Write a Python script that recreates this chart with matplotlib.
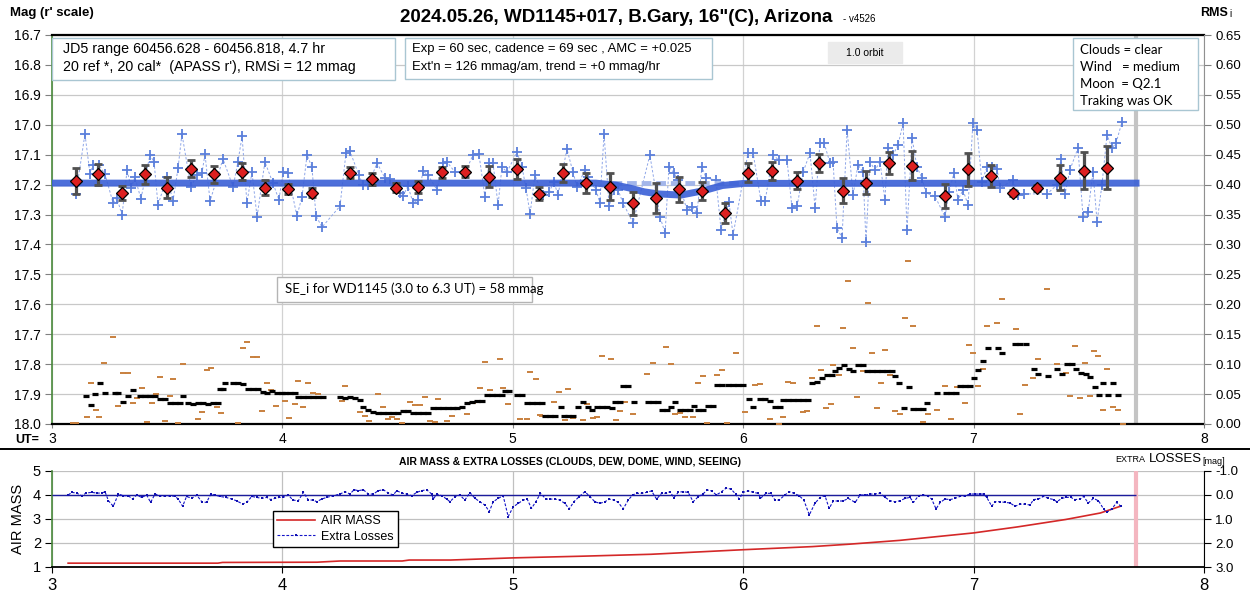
import matplotlib
matplotlib.use('Agg')
import matplotlib.pyplot as plt
from matplotlib.patches import Rectangle
from matplotlib.lines import Line2D
import numpy as np

plt.rcParams['font.family'] = ['Liberation Sans', 'DejaVu Sans']

# ---------------- data ----------------
# binned points (UT hours, r' mag, error)
bin_t = [3.104, 3.200, 3.304, 3.404, 3.499, 3.603, 3.703, 3.825, 3.924, 4.024, 4.128,
         4.293, 4.389, 4.493, 4.589, 4.693, 4.793, 4.897, 5.018, 5.114, 5.218, 5.318,
         5.422, 5.522, 5.622, 5.721, 5.821, 5.921, 6.021, 6.125, 6.234, 6.329, 6.433,
         6.533, 6.633, 6.733, 6.876, 6.976, 7.076, 7.171, 7.275, 7.375, 7.479, 7.579]
bin_m = [17.188, 17.165, 17.229, 17.166, 17.210, 17.147, 17.165, 17.157, 17.210, 17.216, 17.227,
         17.160, 17.182, 17.210, 17.207, 17.159, 17.157, 17.174, 17.149, 17.231, 17.160, 17.194,
         17.207, 17.263, 17.244, 17.215, 17.221, 17.294, 17.160, 17.155, 17.187, 17.129, 17.220,
         17.194, 17.127, 17.137, 17.238, 17.149, 17.170, 17.227, 17.210, 17.177, 17.153, 17.143]
bin_e = [0.042, 0.035, 0.024, 0.033, 0.035, 0.029, 0.028, 0.029, 0.025, 0.017, 0.015,
         0.018, 0.020, 0.016, 0.020, 0.019, 0.018, 0.035, 0.033, 0.022, 0.030, 0.033,
         0.045, 0.037, 0.050, 0.042, 0.030, 0.033, 0.032, 0.030, 0.028, 0.030, 0.042,
         0.039, 0.037, 0.049, 0.039, 0.056, 0.037, 0.010, 0.010, 0.042, 0.063, 0.072]

# individual measurements
cross_t = [3.104, 3.143, 3.165, 3.178, 3.204, 3.230, 3.265, 3.282, 3.304, 3.326, 3.343, 3.360, 3.386,
           3.425, 3.443, 3.460, 3.499, 3.525, 3.547, 3.564, 3.603, 3.629, 3.651, 3.664, 3.686, 3.742,
           3.786, 3.807, 3.825, 3.846, 3.868, 3.890, 3.924, 3.959, 3.985, 4.003, 4.024, 4.063, 4.085,
           4.107, 4.128, 4.146, 4.172, 4.250, 4.276, 4.293, 4.332, 4.350, 4.372, 4.411, 4.445, 4.467,
           4.510, 4.523, 4.545, 4.567, 4.589, 4.610, 4.632, 4.671, 4.697, 4.714,
           4.749, 4.793, 4.827, 4.853, 4.879, 4.897, 4.914, 4.936, 4.953, 4.975, 5.018, 5.040, 5.057,
           5.075, 5.096, 5.131, 5.157, 5.179, 5.196, 5.235, 5.261, 5.279, 5.313, 5.326, 5.361, 5.378,
           5.396, 5.418, 5.439, 5.457, 5.478, 5.522, 5.595, 5.639, 5.661, 5.678, 5.700, 5.717, 5.756,
           5.778, 5.799, 5.821, 5.839, 5.882, 5.904, 5.938, 5.956, 6.021, 6.043, 6.077, 6.095, 6.129,
           6.155, 6.190, 6.212, 6.234, 6.260, 6.290, 6.312, 6.333, 6.351, 6.377, 6.390, 6.407, 6.429,
           6.451,
           6.477, 6.498, 6.520, 6.533, 6.550, 6.572, 6.594, 6.615, 6.628, 6.650, 6.672, 6.694, 6.711,
           6.733, 6.754, 6.776, 6.793, 6.832, 6.876, 6.893, 6.915, 6.932, 6.954, 6.976, 6.997, 7.015,
           7.036, 7.058, 7.080, 7.102, 7.115, 7.171, 7.193, 7.219, 7.319, 7.362, 7.379, 7.397, 7.418,
           7.453, 7.475, 7.497, 7.518, 7.536, 7.557, 7.579, 7.601, 7.618, 7.644]
cross_m = [17.231, 17.031, 17.165, 17.134, 17.134, 17.165, 17.261, 17.245, 17.302, 17.151, 17.211, 17.175, 17.248,
           17.101, 17.124, 17.268, 17.175, 17.255, 17.145, 17.031, 17.208, 17.168, 17.161, 17.098, 17.255, 17.114,
           17.208, 17.124, 17.038, 17.261, 17.158, 17.308, 17.124, 17.195, 17.251, 17.158, 17.161, 17.305, 17.241,
           17.101, 17.141, 17.305, 17.342, 17.272, 17.094, 17.088, 17.168, 17.201, 17.201, 17.128, 17.178, 17.181,
           17.228, 17.238, 17.205, 17.261, 17.251, 17.155, 17.168, 17.218, 17.128, 17.124,
           17.158, 17.161, 17.101, 17.098, 17.241, 17.128, 17.128, 17.268, 17.141, 17.158, 17.091, 17.141, 17.211,
           17.298, 17.168, 17.235, 17.225, 17.191, 17.235, 17.081, 17.158, 17.208, 17.151, 17.175, 17.218, 17.261,
           17.031, 17.272, 17.218, 17.218, 17.261, 17.328, 17.101, 17.308, 17.362, 17.141, 17.161, 17.185, 17.285,
           17.275, 17.295, 17.141, 17.178, 17.185, 17.352, 17.258, 17.368, 17.094, 17.094, 17.255, 17.255, 17.101,
           17.118, 17.118, 17.278, 17.272, 17.158, 17.094, 17.278, 17.061, 17.061, 17.128, 17.124, 17.345, 17.378,
           17.018,
           17.235, 17.134, 17.158, 17.392, 17.124, 17.151, 17.124, 17.251, 17.078, 17.101, 17.068, 16.994, 17.352,
           17.044, 17.141, 17.178, 17.228, 17.238, 17.308, 17.225, 17.161, 17.251, 17.218, 17.268, 16.994, 17.018,
           17.191, 17.141, 17.141, 17.148, 17.211, 17.185, 17.235, 17.231, 17.231, 17.201, 17.114, 17.231, 17.151,
           17.078, 17.308, 17.292, 17.158, 17.325, 17.201, 17.034, 17.078, 17.061, 16.991]

# model fit (thick line) and un-dipped level (dashed)
model_t = [3.00, 5.36, 5.45, 5.51, 5.57, 5.63, 5.73, 5.83, 5.91, 6.00, 7.72]
model_m = [17.195, 17.195, 17.202, 17.212, 17.224, 17.231, 17.235, 17.220, 17.203, 17.196, 17.195]
level_t = [5.43, 5.99]
level_m = [17.195, 17.195]

# RMS-type dashes (right axis)
brown_t = [3.091, 3.104, 3.152, 3.169, 3.191, 3.204, 3.226, 3.265, 3.286, 3.308, 3.330, 3.352, 3.369,
           3.391, 3.412, 3.434, 3.451, 3.469, 3.490, 3.512, 3.525, 3.547, 3.569, 3.634, 3.651, 3.673,
           3.690, 3.716, 3.734, 3.807, 3.829, 3.846, 3.872, 3.890, 3.911, 3.933, 3.951, 3.972, 4.011,
           4.029, 4.055, 4.068, 4.089, 4.111, 4.133, 4.155, 4.259, 4.272, 4.337, 4.359, 4.376, 4.415,
           4.437, 4.458, 4.476, 4.497, 4.519, 4.554, 4.576, 4.597, 4.619, 4.641, 4.662, 4.675, 4.714,
           4.736, 4.801, 4.827, 4.849, 4.858, 4.879, 4.901, 4.944, 4.957, 4.979, 5.031, 5.062, 5.075,
           5.101, 5.118, 5.127, 5.179, 5.200, 5.227, 5.240, 5.261, 5.304, 5.322, 5.348, 5.365, 5.387,
           5.426, 5.448, 5.465, 5.487, 5.522, 5.582, 5.608, 5.665, 5.687, 5.704, 5.726, 5.747, 5.782,
           5.804,
           5.826, 5.843, 5.886, 5.908, 5.930, 5.969, 6.008, 6.051, 6.073, 6.116,
           6.155, 6.173, 6.194, 6.216, 6.260, 6.277, 6.299, 6.320, 6.338, 6.359, 6.381, 6.390, 6.416,
           6.433, 6.455, 6.477, 6.494, 6.520, 6.542, 6.559, 6.581, 6.598, 6.615, 6.637, 6.659, 6.681,
           6.702, 6.715, 6.737, 6.759, 6.780, 6.802, 6.841, 6.876, 6.902, 6.928, 6.963, 6.980, 6.997,
           7.019, 7.041, 7.058, 7.102, 7.123, 7.184, 7.201, 7.223, 7.258, 7.280, 7.319, 7.362, 7.401,
           7.418, 7.440, 7.462, 7.484, 7.505, 7.523, 7.540, 7.562, 7.579, 7.605, 7.627, 7.648]
brown_v = [0.002, 0.002, 0.012, 0.069, 0.023, 0.012, 0.102, 0.145, 0.030, 0.085, 0.085, 0.035, 0.043,
           0.060, 0.003, 0.035, 0.050, 0.079, 0.005, 0.047, 0.075, 0.002, 0.100, 0.008, 0.020, 0.090,
           0.094, 0.028, 0.018, 0.002, 0.127, 0.137, 0.112, 0.112, 0.022, 0.069, 0.057, 0.030, 0.038,
           0.010, 0.033, 0.072, 0.028, 0.069, 0.052, 0.050, 0.038, 0.063, 0.020, 0.013, 0.005, 0.050,
           0.028, 0.008, 0.012, 0.008, 0.002, 0.037, 0.032, 0.032, 0.045, 0.005, 0.003, 0.042, 0.005,
           0.013, 0.017, 0.035, 0.037, 0.060, 0.104, 0.057, 0.109, 0.060, 0.033, 0.008, 0.008, 0.087,
           0.075, 0.015, 0.013, 0.037, 0.054, 0.006, 0.058, 0.010, 0.007, 0.033, 0.010, 0.011, 0.114,
           0.109, 0.007, 0.022, 0.036, 0.017, 0.083, 0.102, 0.129, 0.100, 0.016, 0.018, 0.012, 0.011,
           0.069,
           0.080, 0.002, 0.082, 0.090, 0.002, 0.119, 0.020, 0.065, 0.067, 0.008,
           0.000, 0.012, 0.070, 0.069, 0.020, 0.022, 0.077, 0.164, 0.090, 0.027, 0.033, 0.099, 0.082,
           0.160, 0.239, 0.127, 0.045, 0.089, 0.202, 0.119, 0.027, 0.069, 0.124, 0.082, 0.022, 0.017,
           0.177, 0.272, 0.164, 0.023, 0.003, 0.017, 0.023, 0.063, 0.008, 0.062, 0.035, 0.132, 0.119,
           0.063, 0.092, 0.164, 0.169, 0.209, 0.159, 0.017, 0.065, 0.077, 0.109, 0.226, 0.100, 0.085,
           0.047, 0.130, 0.043, 0.102, 0.047, 0.122, 0.114, 0.023, 0.092, 0.028, 0.023, 0.000]

black_t = [3.148, 3.169, 3.187, 3.208, 3.230, 3.273, 3.286, 3.308, 3.330, 3.352, 3.382, 3.404, 3.425,
           3.447, 3.469, 3.490, 3.512, 3.534, 3.556, 3.569, 3.590, 3.612, 3.634, 3.655, 3.677, 3.699,
           3.720, 3.729, 3.742, 3.751, 3.786, 3.807, 3.829, 3.851, 3.872, 3.894, 3.916, 3.933, 3.955,
           3.977, 3.998, 4.011, 4.033, 4.055, 4.068, 4.089, 4.111, 4.133, 4.155, 4.176, 4.250, 4.272,
           4.293, 4.315, 4.337, 4.350, 4.372, 4.393, 4.415, 4.437, 4.458, 4.480, 4.502, 4.523, 4.545,
           4.567, 4.589, 4.610, 4.632, 4.654, 4.675, 4.697, 4.719, 4.740, 4.758, 4.780, 4.801, 4.823,
           4.845, 4.866, 4.888, 4.910, 4.931, 4.953, 4.966, 4.985, 5.018, 5.040, 5.062, 5.083, 5.105,
           5.127, 5.140, 5.161, 5.183, 5.209, 5.222, 5.240, 5.261, 5.283, 5.304, 5.326, 5.344,
           5.365, 5.387, 5.409, 5.431, 5.444, 5.465, 5.478, 5.500, 5.526, 5.587, 5.608, 5.630,
           5.648, 5.670, 5.687, 5.704, 5.726, 5.747, 5.769, 5.786, 5.804, 5.826, 5.847, 5.869,
           5.888, 5.910, 5.932, 5.954, 5.976, 5.998, 6.025, 6.043, 6.073,
           6.095, 6.116, 6.138, 6.160, 6.173, 6.194, 6.216, 6.238, 6.260, 6.281, 6.299, 6.320, 6.342,
           6.364, 6.385, 6.398, 6.416, 6.438, 6.459, 6.477, 6.498, 6.520, 6.537, 6.559, 6.581, 6.602,
           6.624, 6.646, 6.659, 6.676, 6.698, 6.720, 6.737, 6.759, 6.780, 6.798, 6.841, 6.880, 6.902,
           6.924, 6.941, 6.963, 6.985, 7.002, 7.019, 7.041, 7.062, 7.106, 7.123, 7.180, 7.201, 7.227,
           7.262, 7.280, 7.323, 7.362, 7.384, 7.405, 7.427, 7.444, 7.466, 7.488, 7.505, 7.527, 7.544,
           7.562, 7.583, 7.605, 7.627]
black_v = [0.047, 0.032, 0.050, 0.069, 0.052, 0.052, 0.052, 0.037, 0.047, 0.057, 0.047, 0.047, 0.047,
           0.047, 0.042, 0.042, 0.035, 0.035, 0.035, 0.047, 0.035, 0.033, 0.035, 0.035, 0.033, 0.035,
           0.035, 0.058, 0.058, 0.069, 0.069, 0.069, 0.067, 0.058, 0.058, 0.058, 0.053, 0.052, 0.055,
           0.052, 0.052, 0.052, 0.052, 0.052, 0.045, 0.045, 0.045, 0.045, 0.045, 0.045, 0.045, 0.043,
           0.045, 0.043, 0.040, 0.028, 0.023, 0.020, 0.018, 0.018, 0.018, 0.018, 0.018, 0.022, 0.022,
           0.018, 0.018, 0.018, 0.018, 0.027, 0.027, 0.027, 0.027, 0.027, 0.027, 0.028, 0.035, 0.037,
           0.038, 0.038, 0.048, 0.048, 0.048, 0.048, 0.055, 0.055, 0.048, 0.048, 0.035, 0.035, 0.035,
           0.035, 0.013, 0.013, 0.013, 0.029, 0.013, 0.013, 0.013, 0.029, 0.036, 0.029, 0.023,
           0.029, 0.029, 0.029, 0.027, 0.036, 0.036, 0.063, 0.063, 0.036, 0.036, 0.036, 0.036,
           0.023, 0.023, 0.029, 0.036, 0.023, 0.023, 0.023, 0.030, 0.023, 0.023, 0.030, 0.030,
           0.065, 0.065, 0.065, 0.065, 0.065, 0.065, 0.042, 0.028, 0.042,
           0.042, 0.038, 0.028, 0.028, 0.040, 0.040, 0.040, 0.040, 0.040, 0.040, 0.069, 0.070, 0.077,
           0.082, 0.082, 0.089, 0.094, 0.099, 0.092, 0.089, 0.099, 0.099, 0.089, 0.089, 0.089, 0.089,
           0.089, 0.089, 0.080, 0.069, 0.027, 0.062, 0.025, 0.025, 0.025, 0.035, 0.052, 0.052, 0.052,
           0.052, 0.063, 0.063, 0.063, 0.077, 0.090, 0.105, 0.127, 0.127, 0.119, 0.134, 0.134, 0.134,
           0.092, 0.084, 0.080, 0.092, 0.084, 0.100, 0.100, 0.092, 0.085, 0.084, 0.079, 0.062, 0.048,
           0.069, 0.048, 0.069, 0.048]

# air mass and extra losses (bottom panel)
am_t = [3.07, 3.72, 3.74, 4.15, 4.25, 4.52, 4.55, 4.73, 5.00, 5.30, 5.60, 6.00, 6.30, 6.46,
        6.68, 7.00, 7.19, 7.40, 7.55, 7.64]
am_v = [1.16, 1.16, 1.19, 1.20, 1.25, 1.25, 1.29, 1.29, 1.38, 1.45, 1.53, 1.72, 1.85, 1.95,
        2.11, 2.42, 2.67, 2.98, 3.25, 3.54]

loss_t = [3.071, 3.085, 3.107, 3.129, 3.148, 3.172, 3.194, 3.216, 3.230, 3.245, 3.266, 3.288, 3.310,
          3.331, 3.350, 3.367, 3.389, 3.411, 3.428, 3.447, 3.469, 3.490, 3.512, 3.534, 3.548, 3.567,
          3.584, 3.606, 3.628, 3.650, 3.671, 3.689, 3.707, 3.729, 3.755, 3.780, 3.801, 3.828, 3.848,
          3.867, 3.888, 3.910, 3.932, 3.949, 3.968, 3.987, 4.004, 4.026, 4.045, 4.069, 4.091, 4.113,
          4.134, 4.149, 4.170, 4.192, 4.221, 4.250, 4.272, 4.293, 4.311, 4.330, 4.351, 4.373, 4.395,
          4.416, 4.438, 4.460, 4.481, 4.496, 4.518, 4.539, 4.561, 4.583, 4.604, 4.626, 4.648, 4.655,
          4.670, 4.692, 4.713,
          4.727, 4.749, 4.770, 4.792, 4.814, 4.836, 4.857, 4.879, 4.898, 4.915, 4.937, 4.958, 4.980,
          5.002, 5.024, 5.045, 5.063, 5.081, 5.100, 5.120, 5.144, 5.161, 5.183, 5.204, 5.226, 5.245,
          5.265, 5.288, 5.313, 5.335, 5.356, 5.378, 5.400, 5.419, 5.439, 5.458, 5.479, 5.501, 5.520,
          5.537, 5.559, 5.581, 5.602, 5.624, 5.646, 5.667, 5.682, 5.699, 5.718, 5.737, 5.761, 5.783,
          5.805, 5.824, 5.844, 5.863, 5.884, 5.906, 5.925, 5.947, 5.968, 5.983, 6.000, 6.022, 6.044,
          6.065, 6.075, 6.099, 6.119, 6.138, 6.156, 6.181, 6.200, 6.220, 6.243, 6.263, 6.287, 6.311,
          6.333, 6.355, 6.373, 6.391, 6.412, 6.434, 6.456,
          6.486, 6.507, 6.529, 6.551, 6.572, 6.594, 6.616, 6.638, 6.659, 6.681, 6.703, 6.724, 6.739,
          6.761, 6.779, 6.800, 6.818, 6.837, 6.855, 6.876, 6.898, 6.920, 6.941, 6.963, 6.985, 7.007,
          7.028, 7.043, 7.057, 7.079, 7.093, 7.115, 7.137, 7.158, 7.180, 7.202, 7.224, 7.245, 7.260,
          7.281, 7.303, 7.325, 7.347, 7.361, 7.383, 7.402, 7.422, 7.441, 7.462, 7.477, 7.498, 7.520,
          7.542, 7.564, 7.578, 7.600, 7.621, 7.639]
loss_v = [0.00, -0.11, -0.08, 0.03, -0.08, -0.11, -0.08, -0.08, -0.14, 0.24, 0.47, -0.04, 0.03,
          0.03, 0.17, 0.00, 0.10, 0.00, 0.31, -0.04, 0.03, 0.06, 0.03, 0.06, 0.17, 0.47,
          0.06, 0.14, 0.00, 0.28, 0.31, -0.04, 0.00, 0.06, 0.10, 0.17, 0.24, 0.38, 0.28,
          0.06, 0.10, 0.14, 0.10, 0.19, 0.14, 0.10, 0.10, 0.00, 0.21, 0.24, -0.11, 0.21,
          0.21, 0.28, 0.17, 0.10, 0.03, -0.04, -0.14, -0.04, -0.22, -0.18, -0.22, -0.04, -0.04,
          -0.18, -0.22, -0.08, 0.00, -0.18, -0.08, -0.04, 0.03, -0.11, -0.18, -0.22, -0.04, 0.17,
          -0.04, 0.03, 0.17,
          0.28, 0.07, 0.00, 0.21, -0.10, 0.14, 0.28, 0.42, 0.69, 0.28, 0.14, 0.03, 0.90,
          0.49, 0.35, 0.21, 0.18, 0.56, 0.28, -0.07, 0.17, 0.17, 0.17, 0.21, 0.35, 0.58,
          0.28, 0.07, -0.14, 0.07, 0.28, 0.35, 0.28, 0.17, 0.21, 0.31, 0.58, 0.21, 0.00,
          -0.07, -0.07, -0.11, -0.17, 0.17, -0.07, -0.07, -0.14, 0.11, -0.11, -0.14, -0.11, 0.28,
          0.07, -0.03, -0.21, -0.17, 0.00, -0.14, -0.28, -0.25, -0.03, 0.17, -0.11, -0.17, -0.11,
          -0.07, 0.14, -0.07, -0.07, 0.21, 0.21, 0.00, -0.14, -0.07, 0.03, 0.21, 0.83, 0.35,
          0.11, 0.03, 0.56, 0.25, 0.25, 0.25, 0.14,
          0.31, 0.00, 0.00, -0.04, -0.04, -0.08, 0.10, 0.24, 0.28, 0.24, 0.14, 0.10, 0.31,
          0.03, 0.00, 0.03, 0.17, 0.58, 0.31, 0.17, 0.19, 0.14, 0.06, 0.03, -0.04, -0.04,
          -0.04, -0.04, 0.10, 0.47, 0.28, 0.28, 0.31, 0.33, 0.47, 0.38, 0.38, 0.42, 0.19,
          0.17, 0.06, 0.14, 0.19, 0.28, 0.14, 0.10, 0.10, 0.19, 0.17, 0.06, 0.33, 0.14,
          0.24, 0.58, 0.72, 0.58, 0.31, 0.47]

end_ut = 7.705
x_ticks = [3, 4, 5, 6, 7, 8]
mag_ticks = [16.7, 16.8, 16.9, 17.0, 17.1, 17.2, 17.3, 17.4, 17.5, 17.6, 17.7, 17.8, 17.9, 18.0]
rms_ticks = [0.00, 0.05, 0.10, 0.15, 0.20, 0.25, 0.30, 0.35, 0.40, 0.45, 0.50, 0.55, 0.60, 0.65]
am_ticks = [1, 2, 3, 4, 5]
loss_ticks = [-1.0, 0.0, 1.0, 2.0, 3.0]

# ---------------- figure ----------------
W, H = 1250, 595
fig = plt.figure(figsize=(12.5, 5.95), dpi=100)
fig.patch.set_facecolor('white')


def fx(p):
    return p / W


def fy(p):
    return 1 - p / H


GREEN = '#4a8a3c'
GRID = '#c8c8c8'

# ---- main panel ----
ax = fig.add_axes([fx(52), fy(424), fx(1204) - fx(52), fy(35) - fy(424)])
ax.set_xlim(3, 8)
ax.set_ylim(18.0, 16.7)
ax.set_yticks(mag_ticks)
ax.set_yticklabels(['%.1f' % v for v in mag_ticks], fontsize=10)
ax.set_xticks(x_ticks)
ax.set_xticklabels([str(v) for v in x_ticks], fontsize=10)
ax.tick_params(axis='y', direction='out', length=5, color='#808080', pad=3)
ax.tick_params(axis='x', direction='out', length=3, color='#808080', pad=3)
ax.grid(axis='y', color=GRID, lw=0.9)
ax.grid(axis='x', color='#d2d2d2', lw=0.9)
ax.set_axisbelow(True)
for s in ['top', 'bottom']:
    ax.spines[s].set_color('black')
    ax.spines[s].set_linewidth(1.6)
ax.spines['left'].set_color(GREEN)
ax.spines['left'].set_linewidth(1.2)
ax.spines['right'].set_visible(False)

ax.axvline(end_ut, color='#c4c4c4', lw=3, zorder=1)

ax.plot(cross_t, cross_m, color='#8ea6e8', lw=0.7, ls=(0, (2.5, 2)), zorder=2)
ax.plot(cross_t, cross_m, ls='none', marker='+', ms=7, mew=1.3, color='#5b7fdb', zorder=2)
ax.plot(level_t, level_m, color='#a3b6ea', lw=3.5, ls=(0, (2, 1)), zorder=3)
ax.plot(model_t, model_m, color='#3a5fd6', lw=5, alpha=0.9, solid_capstyle='butt', zorder=3)
ax.errorbar(bin_t, bin_m, yerr=bin_e, fmt='none', ecolor='#505050', elinewidth=2.3,
            capsize=2.8, capthick=2, zorder=4)
ax.plot(bin_t, bin_m, ls='none', marker='D', ms=6.3, mfc='#dd2020', mec='black', mew=0.9, zorder=5)

axr = ax.twinx()
axr.set_ylim(0, 0.65)
axr.set_yticks(rms_ticks)
axr.set_yticklabels(['%.2f' % v for v in rms_ticks], fontsize=9.5)
axr.tick_params(axis='y', direction='out', length=5, color='#808080', pad=3)
for s in ['top', 'bottom', 'left']:
    axr.spines[s].set_visible(False)
axr.spines['right'].set_color('#909090')
axr.plot(brown_t, brown_v, ls='none', marker='_', ms=4, mew=1.4, color='#c8803e', zorder=3)
axr.plot(black_t, black_v, ls='none', marker='_', ms=4, mew=2.3, color='black', zorder=4)

# ---- bottom panel ----
ax2 = fig.add_axes([fx(52), fy(567), fx(1204) - fx(52), fy(471) - fy(567)])
ax2.set_xlim(3, 8)
ax2.set_ylim(1, 5)
ax2.set_yticks(am_ticks)
ax2.set_yticklabels([str(v) for v in am_ticks], fontsize=10.5)
ax2.set_xticks(x_ticks)
ax2.set_xticklabels([str(v) for v in x_ticks], fontsize=12)
ax2.tick_params(axis='y', direction='out', length=5, color='black', pad=3)
ax2.tick_params(axis='x', direction='out', length=4, color='black', pad=4)
ax2.grid(axis='both', color='#c0c0c0', lw=0.9)
ax2.set_axisbelow(True)
ax2.spines['top'].set_visible(False)
ax2.spines['right'].set_visible(False)
ax2.spines['bottom'].set_color('black')
ax2.spines['bottom'].set_linewidth(1.3)
ax2.spines['left'].set_color(GREEN)
ax2.spines['left'].set_linewidth(1.2)
ax2.plot(am_t, am_v, color='#d42828', lw=1.2, zorder=3)
ax2.axvline(end_ut, color='#f4b6c0', lw=3, zorder=2)

ax2r = ax2.twinx()
ax2r.set_ylim(3.0, -1.0)
ax2r.set_yticks(loss_ticks)
ax2r.set_yticklabels(['%.1f' % v for v in loss_ticks], fontsize=9.5)
ax2r.tick_params(axis='y', direction='out', length=5, color='black', pad=3)
for s in ['top', 'bottom', 'left']:
    ax2r.spines[s].set_visible(False)
ax2r.spines['right'].set_color('black')
ax2r.hlines(0.0, 3.0, end_ut, color='#1c1c9c', lw=1.0, zorder=2)
ax2r.plot(loss_t, loss_v, color='#1414c8', lw=0.8, ls=(0, (2.5, 1.5)), marker='s', ms=1.6,
          mew=0, mfc='#1010b0', zorder=3)

h1 = Line2D([], [], color='#d42828', lw=1.2)
h2 = Line2D([], [], color='#1414c8', lw=0.8, ls=(0, (2.5, 1.5)), marker='s', ms=1.6, mew=0,
            mfc='#1010b0')
leg = ax2r.legend([h1, h2], ['AIR MASS', 'Extra Losses'], loc='lower left',
                  bbox_to_anchor=((273 - 52) / 1152, (567 - 547) / 96), borderaxespad=0,
                  fontsize=9, frameon=True, fancybox=False, framealpha=1, edgecolor='black',
                  handlelength=3.0, handletextpad=0.5, borderpad=0.35, labelspacing=0.25)
leg.get_frame().set_linewidth(1.0)

# ---- figure texts ----
fig.text(fx(10), fy(13), "Mag (r' scale)", fontsize=9.5, fontweight='bold', va='center', ha='left')
fig.text(fx(616), fy(17), '2024.05.26, WD1145+017, B.Gary, 16"(C), Arizona', fontsize=13.5,
         fontweight='bold', va='center', ha='center')
fig.text(fx(843), fy(19), '- v4526', fontsize=7, va='center', ha='left')
fig.text(fx(1200), fy(13), 'RMS', fontsize=9, fontweight='bold', va='center', ha='left')
fig.text(fx(1229), fy(14), 'i', fontsize=7, va='center', ha='left')
fig.text(fx(15), fy(440), 'UT=', fontsize=9, fontweight='bold', va='center', ha='left')

fig.add_artist(Line2D([0, 1], [fy(449), fy(449)], transform=fig.transFigure, color='black', lw=1.4))

fig.text(fx(570), fy(462), 'AIR MASS & EXTRA LOSSES (CLOUDS, DEW, DOME, WIND, SEEING)',
         fontsize=7.5, fontweight='bold', va='center', ha='center')
fig.text(fx(1115), fy(460), 'EXTRA', fontsize=6.5, va='center', ha='left')
fig.text(fx(1149), fy(459), 'LOSSES', fontsize=9.5, va='center', ha='left')
fig.text(fx(1202), fy(461), '[mag]', fontsize=6.5, va='center', ha='left')
fig.text(fx(18), fy(519), 'AIR MASS', fontsize=10.5, rotation=90, va='center', ha='center')


def box(x0, y0, x1, y1, ec, fc='white', lw=1.0):
    fig.add_artist(Rectangle((fx(x0), fy(y1)), fx(x1) - fx(x0), fy(y0) - fy(y1),
                             transform=fig.transFigure, ec=ec, fc=fc, lw=lw, zorder=5))


BOXEC = '#a9c6d2'
box(52, 38, 395, 80, BOXEC)
fig.text(fx(63), fy(49), 'JD5 range 60456.628 - 60456.818, 4.7 hr', fontsize=10.3,
         va='center', ha='left', zorder=6)
fig.text(fx(63), fy(67), "20 ref *, 20 cal*  (APASS r'), RMSi = 12 mmag", fontsize=10.3,
         va='center', ha='left', zorder=6)

box(405, 38, 712, 79, BOXEC)
fig.text(fx(412), fy(49), 'Exp = 60 sec, cadence = 69 sec , AMC = +0.025', fontsize=9.4,
         family=['Liberation Sans Narrow', 'Liberation Sans'], va='center', ha='left', zorder=6)
fig.text(fx(412), fy(67), "Ext'n = 126 mmag/am, trend = +0 mmag/hr", fontsize=9.4,
         family=['Liberation Sans Narrow', 'Liberation Sans'], va='center', ha='left', zorder=6)

box(828, 42, 902, 63, '#ebebeb', fc='#ebebeb')
fig.text(fx(865), fy(53), '1.0 orbit', fontsize=7.5, va='center', ha='center', zorder=6)

box(1073, 38, 1198, 110, BOXEC)
for i, line in enumerate(['Clouds = clear', 'Wind   = medium', 'Moon  = Q2.1', 'Traking was OK']):
    fig.text(fx(1080), fy(50 + 17 * i), line, fontsize=9.5, family=['Lato', 'DejaVu Sans'],
             va='center', ha='left', zorder=6)

box(277, 277, 532, 302, '#b4b4b4')
fig.text(fx(285), fy(289), 'SE_i for WD1145 (3.0 to 6.3 UT) = 58 mmag', fontsize=9.5,
         family=['Lato', 'DejaVu Sans'], va='center', ha='left', zorder=6)

fig.savefig('out.png', dpi=100)
